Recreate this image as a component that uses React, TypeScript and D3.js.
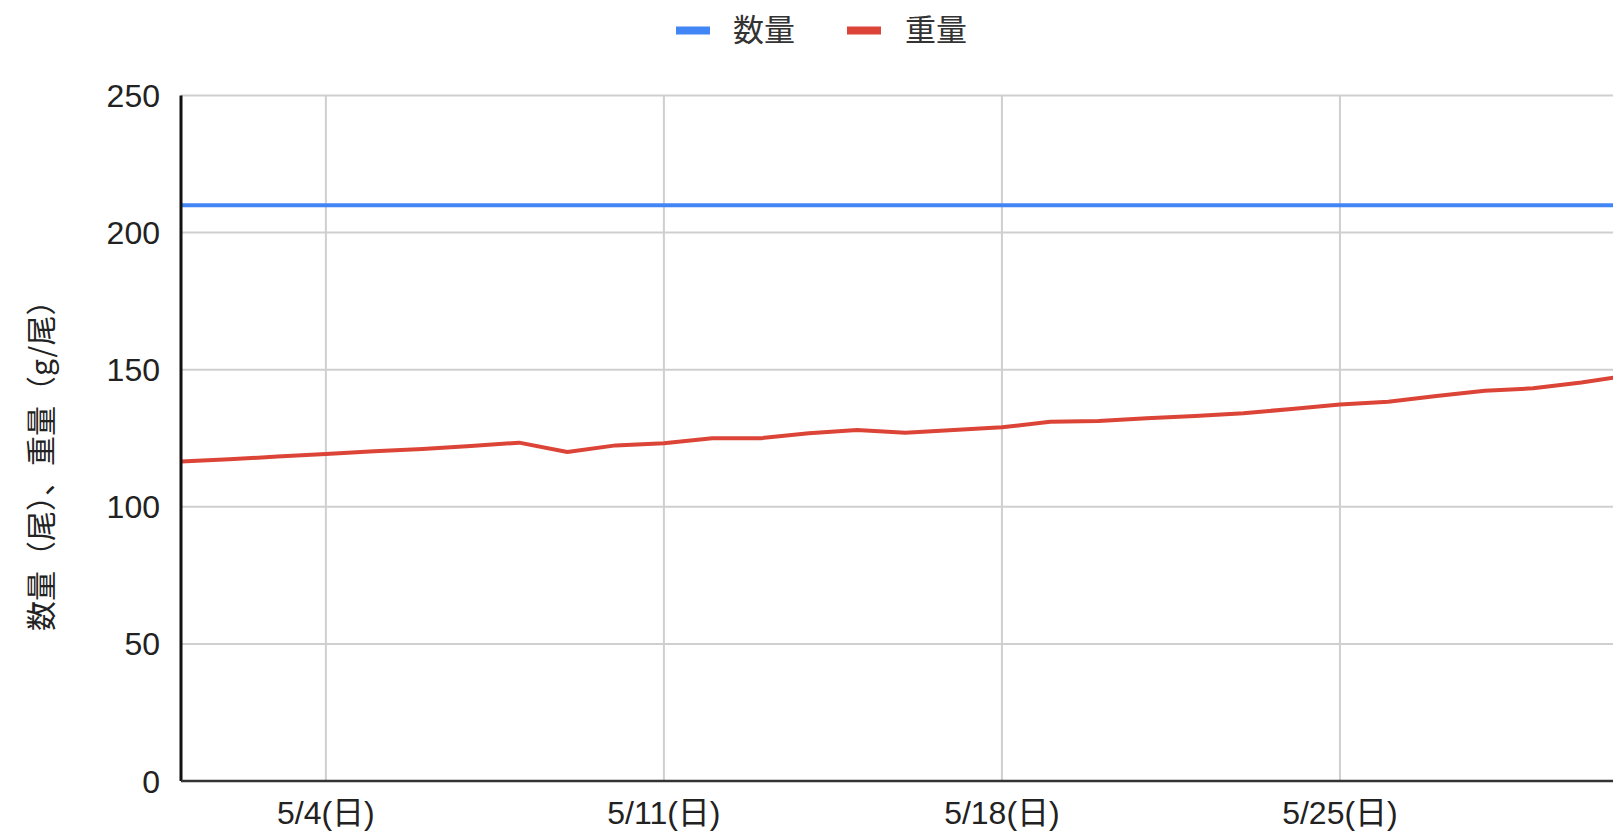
import * as d3 from "d3";

// data
const dates = [
  "2025-05-01", "2025-05-02", "2025-05-03", "2025-05-04", "2025-05-05", "2025-05-06",
  "2025-05-07", "2025-05-08", "2025-05-09", "2025-05-10", "2025-05-11", "2025-05-12",
  "2025-05-13", "2025-05-14", "2025-05-15", "2025-05-16", "2025-05-17", "2025-05-18",
  "2025-05-19", "2025-05-20", "2025-05-21", "2025-05-22", "2025-05-23", "2025-05-24",
  "2025-05-25", "2025-05-26", "2025-05-27", "2025-05-28", "2025-05-29", "2025-05-30",
  "2025-05-31",
];
const countValues = [
  210, 210, 210, 210, 210, 210, 210, 210, 210, 210, 210, 210, 210, 210, 210, 210,
  210, 210, 210, 210, 210, 210, 210, 210, 210, 210, 210, 210, 210, 210, 210,
];
const weightValues = [
  116.5, 117.3, 118.3, 119.3, 120.3, 121.1, 122.2, 123.4, 120, 122.4, 123.2, 125,
  125, 126.8, 128, 127, 128, 129, 131, 131.3, 132.3, 133.1, 134.1, 135.7, 137.3,
  138.3, 140.4, 142.3, 143.2, 145.3, 148,
];
const seriesNames = ["数量", "重量"];
const yTicks = [0, 50, 100, 150, 200, 250];
const xTickDates = ["2025-05-04", "2025-05-11", "2025-05-18", "2025-05-25"];
const xTickLabels = ["5/4(日)", "5/11(日)", "5/18(日)", "5/25(日)"];
const yTitle = "数量（尾）、重量（g/尾）";

const W = 1613;
const H = 832;
const left = 181;
const top = 95.5;
const bottom = 781;
const dayPx = 48.29;

const FONT = "'Liberation Sans', Arial, 'Noto Sans CJK JP', sans-serif";
const BLUE = "#4285f4";
const RED = "#db4437";

const parse = d3.timeParse("%Y-%m-%d");

export default function App() {
  const xDates = dates.map((d) => parse(d) as Date);
  const start = parse("2025-05-01") as Date;
  const end = parse("2025-06-01") as Date;

  const x = d3.scaleTime().domain([start, end]).range([left, left + 31 * dayPx]);
  const y = d3.scaleLinear().domain([0, 250]).range([bottom, top]);

  const line = d3
    .line<number>()
    .x((_, i) => x(xDates[i]))
    .y((d) => y(d));

  return (
    <svg
      width={W}
      height={H}
      style={{ position: "absolute", left: 0, top: 0, background: "#fff" }}
      fontFamily={FONT}
    >
      <defs>
        <clipPath id="plot">
          <rect x={left} y={0} width={W - left} height={bottom + 2} />
        </clipPath>
      </defs>

      {/* legend */}
      <g>
        <rect x={676} y={26.5} width={34} height={8} fill={BLUE} />
        <text x={733} y={30} fontSize={31} fill="#333" dominantBaseline="central">
          {seriesNames[0]}
        </text>
        <rect x={847} y={26.5} width={34} height={8} fill={RED} />
        <text x={905} y={30} fontSize={31} fill="#333" dominantBaseline="central">
          {seriesNames[1]}
        </text>
      </g>

      {/* grid */}
      <g clipPath="url(#plot)">
        {yTicks.map((t) => (
          <line key={t} x1={left} x2={W} y1={y(t)} y2={y(t)} stroke="#cfcfcf" strokeWidth={2} />
        ))}
        {xTickDates.map((d) => {
          const px = x(parse(d) as Date);
          return <line key={d} x1={px} x2={px} y1={top} y2={bottom} stroke="#cfcfcf" strokeWidth={2} />;
        })}
      </g>

      {/* y tick labels */}
      {yTicks.map((t) => (
        <text key={t} x={160} y={y(t)} dy="0.36em" textAnchor="end" fontSize={32} fill="#222">
          {t}
        </text>
      ))}

      {/* x tick labels */}
      {xTickDates.map((d, i) => (
        <text
          key={d}
          x={x(parse(d) as Date)}
          y={824}
          textAnchor="middle"
          fontSize={32}
          fill="#222"
        >
          {xTickLabels[i]}
        </text>
      ))}

      {/* y title */}
      <text
        transform={`translate(52,${(top + bottom) / 2 + 20}) rotate(-90)`}
        textAnchor="middle"
        fontSize={30}
        fill="#222"
        fontFamily="'Noto Sans CJK JP', sans-serif"
      >
        {yTitle}
      </text>

      {/* series */}
      <g clipPath="url(#plot)">
        <path d={line(countValues) ?? ""} fill="none" stroke={BLUE} strokeWidth={4} />
        <path d={line(weightValues) ?? ""} fill="none" stroke={RED} strokeWidth={4} strokeLinejoin="round" />
      </g>

      {/* axes */}
      <line x1={left} x2={left} y1={top} y2={bottom} stroke="#111" strokeWidth={3} />
      <line x1={left} x2={W} y1={bottom} y2={bottom} stroke="#333" strokeWidth={2.5} />
    </svg>
  );
}
